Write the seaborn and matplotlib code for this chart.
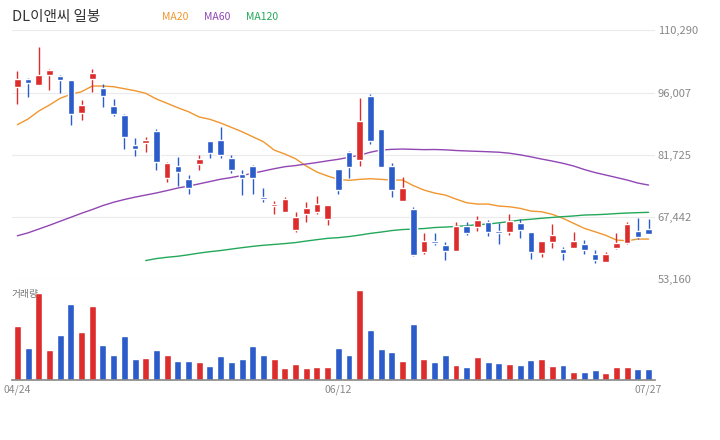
import numpy as np
import pandas as pd
import matplotlib
matplotlib.use('Agg')
import matplotlib.pyplot as plt
import seaborn as sns

title = 'DL이앤씨 일봉'
tick_labels = ['04/24', '06/12', '07/27']
tick_pos = [0, 30, 59]
price_ticks = [53160, 67442, 81725, 96007, 110290]

opens = [97400, 99100, 97800, 100100, 99800, 98900, 91400, 99200, 97100, 92900,
         90900, 84000, 84500, 87200, 76500, 79200, 76200, 79700, 84900, 85100,
         81000, 77300, 79200, 72000, 70000, 68600, 64500, 68100, 68600, 67000,
         78500, 82400, 80600, 95200, 87700, 79200, 71100, 69300, 59400, 61900,
         61000, 59600, 65400, 65200, 66300, 64200, 64000, 66100, 64000, 59200,
         61700, 60100, 60300, 61200, 59000, 57100, 60300, 61500, 64200, 64700]
highs = [101000, 99400, 106500, 101400, 100100, 98900, 94300, 101400, 98000, 94500,
         91100, 85600, 85800, 87700, 80100, 81200, 77100, 81700, 84900, 88100,
         81700, 78200, 79400, 74100, 71100, 72000, 68600, 70900, 72300, 70200,
         78500, 82600, 94800, 95700, 87700, 79800, 76600, 69700, 63800, 63800,
         61700, 66300, 66300, 67700, 66800, 66100, 68100, 67000, 64000, 61900,
         65800, 60600, 64000, 62200, 59900, 59400, 63800, 66300, 67200, 67000]
lows = [93500, 95100, 97800, 96600, 96000, 88600, 89700, 96200, 92800, 90700,
        83100, 81500, 82400, 78300, 75600, 74600, 72800, 78300, 81100, 81100,
        77600, 72600, 72800, 70900, 68100, 68600, 64000, 66300, 68100, 65600,
        72800, 76500, 79200, 84300, 79000, 72100, 71100, 58500, 59000, 61000,
        57600, 59600, 63300, 64200, 63100, 61200, 63300, 62600, 57800, 58300,
        60300, 57600, 60300, 59000, 56900, 57100, 60100, 61200, 62400, 63500]
closes = [99100, 98300, 100000, 101200, 99000, 91200, 93200, 100500, 95300, 91200,
          85900, 83100, 85100, 80100, 79800, 77800, 74200, 80800, 82200, 81800,
          78300, 76500, 76500, 71600, 70400, 71600, 67400, 69500, 70400, 70200,
          73700, 79000, 89500, 85000, 79000, 73700, 74100, 58700, 61900, 61500,
          59600, 65400, 63800, 66800, 64000, 63800, 66500, 64500, 59400, 61900,
          63300, 59200, 61900, 59900, 57600, 59000, 61500, 65800, 62900, 63500]
volumes = [272, 160, 437, 150, 227, 382, 242, 372, 175, 125,
           222, 105, 110, 150, 125, 95, 95, 90, 70, 120,
           90, 105, 170, 125, 105, 60, 80, 60, 65, 65,
           160, 125, 450, 250, 155, 140, 95, 280, 105, 90,
           125, 75, 65, 115, 90, 85, 80, 75, 100, 105,
           70, 75, 40, 40, 50, 35, 65, 65, 55, 55]
ma20 = [88640, 89950, 91780, 93160, 94700, 95620, 96220, 97520, 97520, 97360,
        96900, 96450, 95850, 94540, 93550, 92540, 91620, 90410, 89880, 89030,
        88040, 87030, 85880, 84740, 82830, 81910, 80830, 79160, 77780, 76860,
        76100, 75870, 76100, 76240, 76100, 75940, 75940, 74680, 73650, 72960,
        72500, 71580, 70730, 70430, 70430, 69970, 69810, 69440, 68820, 68660,
        68070, 67150, 66000, 64850, 64070, 63250, 62170, 62000, 62400, 62400]
ma60 = [63150, 63820, 64690, 65560, 66480, 67400, 68320, 69170, 70090, 70850,
        71470, 72020, 72500, 72980, 73530, 74110, 74560, 75070, 75600, 76130,
        76520, 76980, 77500, 78010, 78540, 79000, 79270, 79620, 79960, 80350,
        80700, 81180, 81640, 82330, 82830, 82990, 83060, 82990, 82920, 82950,
        82880, 82720, 82620, 82530, 82440, 82330, 82100, 81730, 81270, 80760,
        80300, 79780, 79160, 78350, 77660, 77090, 76520, 75940, 75250, 74790]
ma120 = [np.nan] * 12 + [
        57460, 57920, 58220, 58450, 58790, 59180, 59500, 59760,
        60100, 60420, 60720, 60970, 61160, 61360, 61590, 61940, 62260, 62560,
        62720, 62970, 63310, 63700, 64000, 64350, 64580, 64690, 64810, 65040,
        65150, 65290, 65470, 65700, 65840, 66120, 66410, 66760, 66940, 67170,
        67360, 67540, 67700, 67910, 67980, 68090, 68250, 68370, 68460, 68530]

RED = '#dd2c2c'
BLUE = '#2b5cc9'
C20, C60, C120 = '#f0962e', '#9146b4', '#23a85a'

df = pd.DataFrame({'i': np.arange(len(opens)), 'open': opens, 'high': highs,
                   'low': lows, 'close': closes, 'vol': volumes,
                   'ma20': ma20, 'ma60': ma60, 'ma120': ma120})
df['color'] = np.where(df['close'] >= df['open'], RED, BLUE)

sns.set_style('white')
plt.rcParams['font.family'] = ['Noto Sans CJK KR', 'DejaVu Sans']

fig = plt.figure(figsize=(7.2, 4.4), dpi=100)
W, H = 720, 440
ax = fig.add_axes([12 / W, 1 - 279.3 / H, 643 / W, 248.9 / H])
axv = fig.add_axes([12 / W, 60 / H, 643 / W, 100 / H])

# gridlines
for p in price_ticks:
    ax.axhline(p, color='#ebebeb', lw=0.8, zorder=0)

# moving averages
sns.lineplot(data=df, x='i', y='ma20', ax=ax, color=C20, lw=1.0, zorder=2)
sns.lineplot(data=df, x='i', y='ma60', ax=ax, color=C60, lw=1.0, zorder=2)
sns.lineplot(data=df.dropna(), x='i', y='ma120', ax=ax, color=C120, lw=1.0, zorder=2)

# candles
ax.vlines(df['i'], df['low'], df['high'], colors=df['color'], lw=1.0, zorder=3)
body = np.maximum((df['close'] - df['open']).abs(), 180)
ax.bar(df['i'], body, bottom=np.minimum(df['open'], df['close']),
       width=0.62, color=df['color'], zorder=4)

ax.set_xlim(-0.5, 59.6)
ax.set_ylim(price_ticks[0], price_ticks[-1])
ax.set_yticks(price_ticks)
ax.set_yticklabels([f'{p:,}' for p in price_ticks])
ax.yaxis.tick_right()
ax.tick_params(axis='y', length=0, pad=2, labelsize=8, labelcolor='#888888')
ax.set_xticks([])
ax.set_xlabel('')
ax.set_ylabel('')
for s in ax.spines.values():
    s.set_visible(False)

# volume
axv.bar(df['i'], df['vol'], width=0.65, color=df['color'])
axv.set_xlim(-0.5, 59.6)
axv.set_ylim(0, 500)
axv.set_yticks([])
axv.set_xticks(tick_pos)
axv.set_xticklabels(tick_labels)
axv.tick_params(axis='x', length=0, pad=3, labelsize=7.5, labelcolor='#888888')
for k, s in axv.spines.items():
    s.set_visible(k == 'bottom')
axv.spines['bottom'].set_color('#888888')
axv.spines['bottom'].set_linewidth(1.2)

fig.text(12 / W, 1 - 17 / H, title, fontsize=10.5, color='#333333', va='center')
for label, x, c in [('MA20', 162, C20), ('MA60', 204, C60), ('MA120', 246, C120)]:
    fig.text(x / W, 1 - 17 / H, label, fontsize=7.5, color=c, va='center')
fig.text(12 / W, 1 - 294.5 / H, '거래량', fontsize=7, color='#777777', va='center')

fig.savefig('out.png', dpi=100)
